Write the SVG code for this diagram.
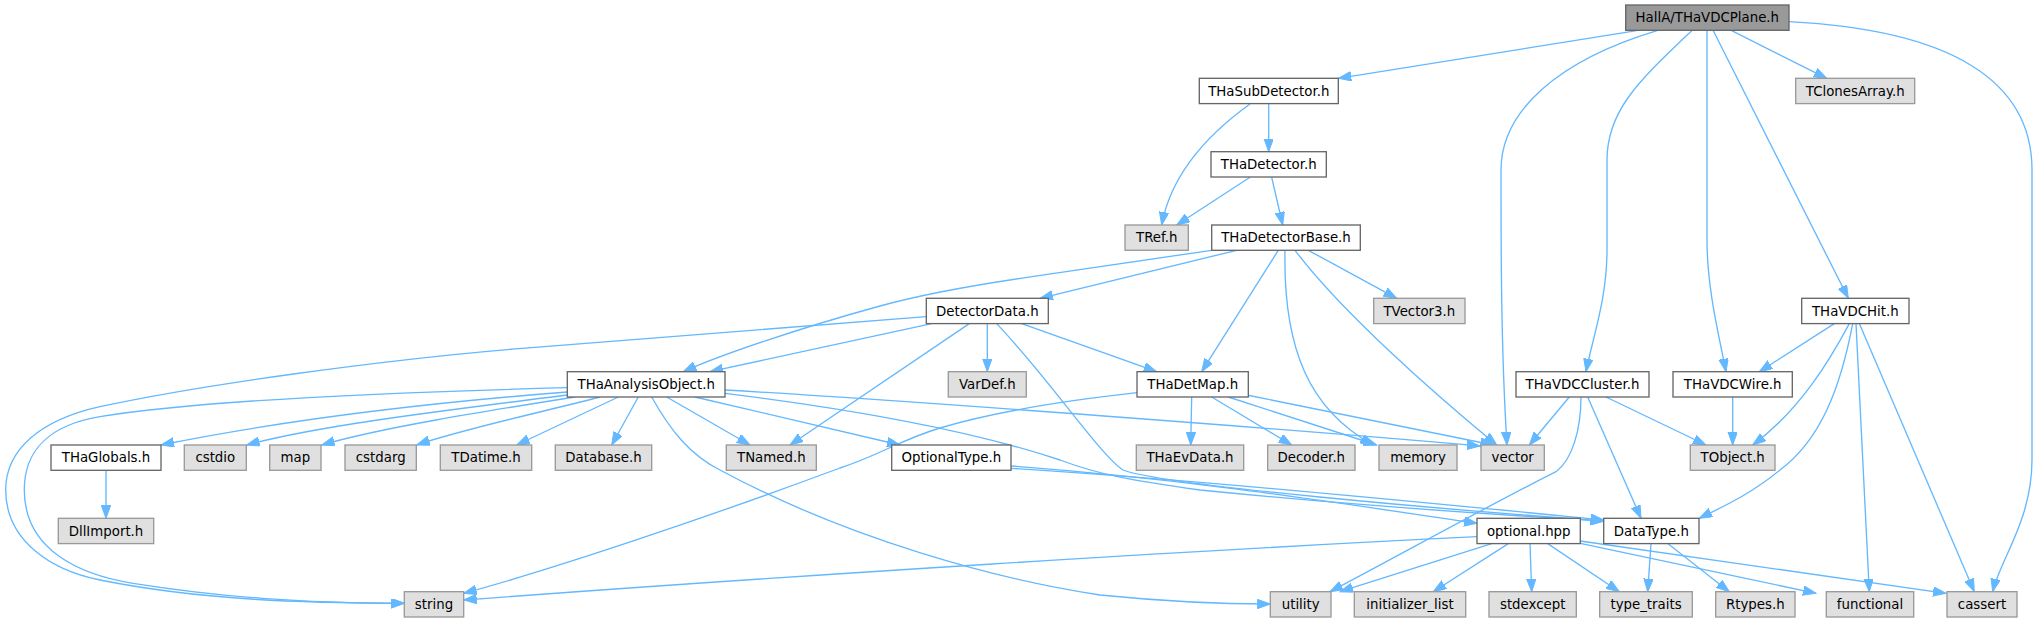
<svg xmlns="http://www.w3.org/2000/svg" width="2038" height="623" viewBox="0 0 2038 623">
<style>
.n rect{fill:#ffffff;stroke:#666666;stroke-width:1.33}
.g rect{fill:#e0e0e0;stroke:#999999;stroke-width:1.33}
.r rect{fill:#999999;stroke:#666666;stroke-width:1.33}
text{font-family:"DejaVu Sans","Liberation Sans",sans-serif;font-size:13.33px;fill:#000000;text-anchor:middle}
#edges path{fill:none;stroke:#63b8ff;stroke-width:1.33;marker-end:url(#arr)}
</style>
<defs>
<marker id="arr" markerUnits="userSpaceOnUse" markerWidth="14" markerHeight="10" refX="13" refY="4.7" orient="auto" viewBox="0 0 14 10">
<path d="M0,0 L13,4.7 L0,9.4 Z" fill="#63b8ff" stroke="#63b8ff" stroke-width="1"/>
</marker>
</defs>
<g id="edges">
<path d="M1636.7,30.7 L1338.3,78.3"/>
<path d="M1657,30.7 C1560,60 1501,110 1501,170 C1501,250 1501,350 1507,445"/>
<path d="M1691.7,30.7 C1640,80 1607,110 1607,160 L1607,250 C1607,300 1592,340 1586,371.7"/>
<path d="M1707,30.7 L1707,240 C1707,290 1720,340 1726,371.7"/>
<path d="M1713.3,30.7 L1848.3,298.3"/>
<path d="M1731.7,30.7 L1826.7,78.3"/>
<path d="M1789,21.7 C1950,30 2032,80 2032,170 L2032,460 C2032,520 2000,560 1992.7,591.7"/>
<path d="M1268.7,104 L1268.7,151.7"/>
<path d="M1250,104 C1200,140 1170,180 1161.7,225"/>
<path d="M1250,177.3 L1176.7,225"/>
<path d="M1271.7,177.3 L1282.7,225"/>
<path d="M1211.7,250.3 L1032,276.7 C960,287 920,295 880,306 C800,328 720,355 683.3,371.7"/>
<path d="M1236.7,250.3 L1040,298.3"/>
<path d="M1278.3,250.3 L1201.7,371.7"/>
<path d="M1285,250.3 C1283,350 1310,410 1373.3,445"/>
<path d="M1295,250.3 C1340,310 1430,390 1496.7,445"/>
<path d="M1308.3,250.3 L1396.7,298.3"/>
<path d="M926.3,316.7 L522,348.3 C380,360 200,385 100,406.7 C40,420 5.7,450 5.7,490 C5.7,540 50,570 100,580 C200,600 300,603 404.3,603.3"/>
<path d="M567.3,387.7 C400,392 200,400 100,416.7 C50,425 24.3,450 24.3,490 C24.3,550 80,575 133,583.3 C220,597 300,603 404.3,603.3"/>
<path d="M931.7,323.6 L710,371.7"/>
<path d="M969.3,323.6 L790,445"/>
<path d="M987.3,323.6 L987.3,371.7"/>
<path d="M1021.7,323.6 L1156.7,371.7"/>
<path d="M996.7,323.6 C1050,380 1100,455 1123,470 C1160,485 1450,510 1603.7,521"/>
<path d="M567.3,392 C400,405 260,425 161,445"/>
<path d="M567.3,395 C450,410 320,425 246.7,445"/>
<path d="M575,397 C480,412 380,428 321.7,445"/>
<path d="M600,397 C530,415 460,430 416.7,445"/>
<path d="M618.3,397 L516.7,445"/>
<path d="M638.3,397 L611.7,445"/>
<path d="M666.7,397 L750,445"/>
<path d="M695,397 L900,445"/>
<path d="M651.7,397 C670,430 690,455 720,470 C850,540 1000,580 1100,595 C1180,603 1230,604 1270.3,604"/>
<path d="M725,390 C900,400 1300,430 1480,446"/>
<path d="M725,393.3 C900,415 1000,440 1060,460 C1100,475 1130,480 1200,490 C1350,505 1500,515 1603.7,521"/>
<path d="M1011,468.3 C1200,480 1450,505 1603.7,520"/>
<path d="M1011,466 C1200,480 1350,505 1477,523.3"/>
<path d="M1137,392.7 C1080,399 1000,410 940,428 C900,440 880,455 840,468 C700,520 550,570 463.7,593.3"/>
<path d="M1191.7,397 L1190.7,445"/>
<path d="M1211.7,397 L1291.7,445"/>
<path d="M1228.3,397 L1376.7,445"/>
<path d="M1246.7,395 L1493.3,445"/>
<path d="M1569.3,397 L1529.3,445"/>
<path d="M1581,397 C1581,430 1572,460 1556,471.7 C1480,510 1400,555 1330,591.7"/>
<path d="M1587.7,397 L1641,518.3"/>
<path d="M1606,397 L1706,445"/>
<path d="M1732.7,397 L1732.7,445"/>
<path d="M1834.3,323.6 L1759.3,371.7"/>
<path d="M1849.3,323.6 C1830,360 1800,410 1752.7,445"/>
<path d="M1852.7,323.6 C1840,390 1820,440 1780,470 C1750,495 1720,508 1699.3,518.3"/>
<path d="M1856,323.6 L1869.3,591.7"/>
<path d="M1859.3,323.6 L1974.3,591.7"/>
<path d="M106,470.3 L106,518.3"/>
<path d="M1477,536.7 C1200,550 800,575 463.7,600"/>
<path d="M1491.7,543.6 L1340,591.7"/>
<path d="M1508.3,543.6 L1433.3,591.7"/>
<path d="M1530,543.6 L1531.7,591.7"/>
<path d="M1547.7,543.6 L1619.3,591.7"/>
<path d="M1580.3,543.3 L1816,593.3"/>
<path d="M1580.3,541 L1946,593.3"/>
<path d="M1651,543.6 L1647.7,591.7"/>
<path d="M1667.7,543.6 L1729.3,591.7"/>
</g>
<g id="n_root" class="r"><rect x="1625.7" y="5" width="163.3" height="25.3"/><text x="1707.3" y="22.3">HallA/THaVDCPlane.h</text></g>
<g id="n_THaSubDetector" class="n"><rect x="1199.3" y="78.3" width="139" height="25.3"/><text x="1268.8" y="95.6">THaSubDetector.h</text></g>
<g id="n_TClonesArray" class="g"><rect x="1795.7" y="78.3" width="119" height="25.3"/><text x="1855.2" y="95.6">TClonesArray.h</text></g>
<g id="n_THaDetector" class="n"><rect x="1211" y="151.7" width="115.3" height="25.3"/><text x="1268.7" y="169">THaDetector.h</text></g>
<g id="n_TRef" class="g"><rect x="1125" y="225" width="63.3" height="25.3"/><text x="1156.7" y="242.3">TRef.h</text></g>
<g id="n_THaDetectorBase" class="n"><rect x="1211.7" y="225" width="148.6" height="25.3"/><text x="1286" y="242.3">THaDetectorBase.h</text></g>
<g id="n_DetectorData" class="n"><rect x="926.3" y="298.3" width="122" height="25.3"/><text x="987.3" y="315.6">DetectorData.h</text></g>
<g id="n_TVector3" class="g"><rect x="1373.7" y="298.3" width="91.3" height="25.3"/><text x="1419.3" y="315.6">TVector3.h</text></g>
<g id="n_THaVDCHit" class="n"><rect x="1801.7" y="298.3" width="107.3" height="25.3"/><text x="1855.3" y="315.6">THaVDCHit.h</text></g>
<g id="n_THaAnalysisObject" class="n"><rect x="567.3" y="371.7" width="157.7" height="25.3"/><text x="646.2" y="389">THaAnalysisObject.h</text></g>
<g id="n_VarDef" class="g"><rect x="948.3" y="371.7" width="78" height="25.3"/><text x="987.3" y="389">VarDef.h</text></g>
<g id="n_THaDetMap" class="n"><rect x="1137" y="371.7" width="111.3" height="25.3"/><text x="1192.7" y="389">THaDetMap.h</text></g>
<g id="n_THaVDCCluster" class="n"><rect x="1516" y="371.7" width="133" height="25.3"/><text x="1582.5" y="389">THaVDCCluster.h</text></g>
<g id="n_THaVDCWire" class="n"><rect x="1673" y="371.7" width="119.3" height="25.3"/><text x="1732.7" y="389">THaVDCWire.h</text></g>
<g id="n_THaGlobals" class="n"><rect x="51" y="445" width="110" height="25.3"/><text x="106" y="462.3">THaGlobals.h</text></g>
<g id="n_cstdio" class="g"><rect x="184.3" y="445" width="62" height="25.3"/><text x="215.3" y="462.3">cstdio</text></g>
<g id="n_map" class="g"><rect x="269.7" y="445" width="51.3" height="25.3"/><text x="295.3" y="462.3">map</text></g>
<g id="n_cstdarg" class="g"><rect x="345" y="445" width="71.3" height="25.3"/><text x="380.7" y="462.3">cstdarg</text></g>
<g id="n_TDatime" class="g"><rect x="440.3" y="445" width="91.4" height="25.3"/><text x="486" y="462.3">TDatime.h</text></g>
<g id="n_Database" class="g"><rect x="555.3" y="445" width="96.4" height="25.3"/><text x="603.5" y="462.3">Database.h</text></g>
<g id="n_TNamed" class="g"><rect x="726.3" y="445" width="90" height="25.3"/><text x="771.3" y="462.3">TNamed.h</text></g>
<g id="n_OptionalType" class="n"><rect x="891.7" y="445" width="119.3" height="25.3"/><text x="951.3" y="462.3">OptionalType.h</text></g>
<g id="n_THaEvData" class="g"><rect x="1136.3" y="445" width="107.4" height="25.3"/><text x="1190" y="462.3">THaEvData.h</text></g>
<g id="n_Decoder" class="g"><rect x="1267.7" y="445" width="87.3" height="25.3"/><text x="1311.3" y="462.3">Decoder.h</text></g>
<g id="n_memory" class="g"><rect x="1379" y="445" width="78" height="25.3"/><text x="1418" y="462.3">memory</text></g>
<g id="n_vector" class="g"><rect x="1481" y="445" width="63.3" height="25.3"/><text x="1512.7" y="462.3">vector</text></g>
<g id="n_TObject" class="g"><rect x="1690.3" y="445" width="84.7" height="25.3"/><text x="1732.7" y="462.3">TObject.h</text></g>
<g id="n_DllImport" class="g"><rect x="58.3" y="518.3" width="95.4" height="25.3"/><text x="106" y="535.6">DllImport.h</text></g>
<g id="n_optional" class="n"><rect x="1477" y="518.3" width="103.3" height="25.3"/><text x="1528.7" y="535.6">optional.hpp</text></g>
<g id="n_DataType" class="n"><rect x="1603.7" y="518.3" width="95.3" height="25.3"/><text x="1651.3" y="535.6">DataType.h</text></g>
<g id="n_string" class="g"><rect x="404.3" y="591.7" width="59.4" height="25.3"/><text x="434" y="609">string</text></g>
<g id="n_utility" class="g"><rect x="1270.3" y="591.7" width="60.7" height="25.3"/><text x="1300.7" y="609">utility</text></g>
<g id="n_initializer_list" class="g"><rect x="1354.3" y="591.7" width="111.4" height="25.3"/><text x="1410" y="609">initializer_list</text></g>
<g id="n_stdexcept" class="g"><rect x="1489" y="591.7" width="87.3" height="25.3"/><text x="1532.7" y="609">stdexcept</text></g>
<g id="n_type_traits" class="g"><rect x="1599.7" y="591.7" width="92.6" height="25.3"/><text x="1646" y="609">type_traits</text></g>
<g id="n_Rtypes" class="g"><rect x="1715.7" y="591.7" width="79.3" height="25.3"/><text x="1755.3" y="609">Rtypes.h</text></g>
<g id="n_functional" class="g"><rect x="1826.3" y="591.7" width="87.4" height="25.3"/><text x="1870" y="609">functional</text></g>
<g id="n_cassert" class="g"><rect x="1947" y="591.7" width="70" height="25.3"/><text x="1982" y="609">cassert</text></g>
</svg>
